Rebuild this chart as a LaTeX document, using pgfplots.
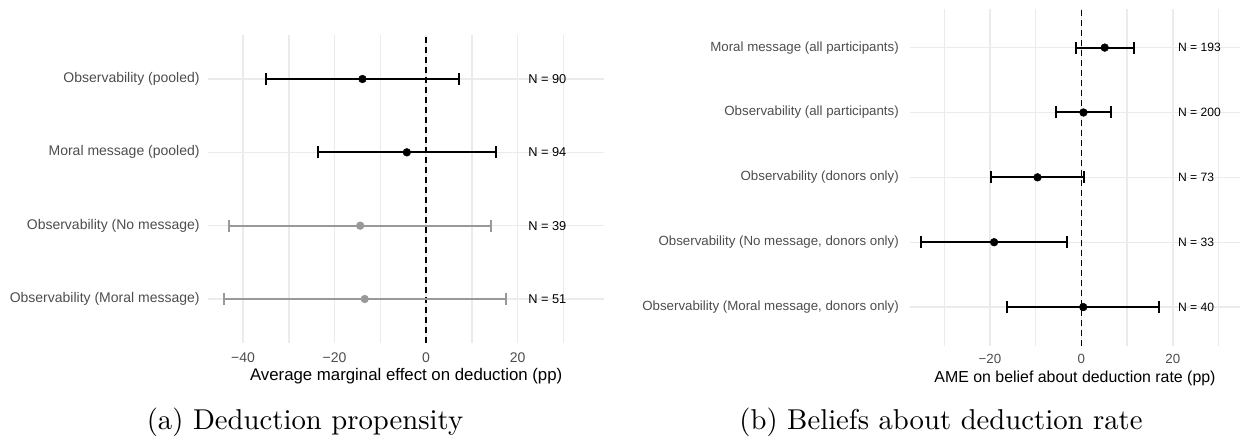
\documentclass[border=0pt]{standalone}
\usepackage{fontspec}
\usepackage{pgfplots}
\pgfplotsset{compat=1.18}
\newfontfamily\arial{Liberation Sans}
\newfontfamily\capfont{lmroman10-regular.otf}
\definecolor{gridc}{HTML}{EBEBEB}
\definecolor{labc}{HTML}{4D4D4D}
\definecolor{greybar}{HTML}{999999}

\tikzset{nlab/.style={anchor=west, inner sep=0pt}}

\pgfplotsset{
  forest/.style={
    scale only axis,
    anchor=south west,
    axis line style={draw=none},
    major tick length=0pt, minor tick length=0pt,
    xmajorgrids, xminorgrids, ymajorgrids,
    grid style={color=gridc, line width=1.4pt},
    minor grid style={color=gridc, line width=1.4pt},
    xtick={-40,-20,0,20},
    xticklabels={−40,−20,0,20},
    minor xtick={-30,-10,10,30},
    ticklabel style={text=labc},
    xticklabel style={anchor=base, inner sep=0pt},
    yticklabel style={anchor=east, inner sep=0pt},
    xlabel style={text=black, anchor=base, at={(axis description cs:0.5,0)}},
    clip=false,
  },
  est/.style={black, only marks, mark=*, mark size=3.9pt,
    error bars/.cd, x dir=both, x explicit, error mark=|,
    error bar style={line width=2pt, black},
    error mark options={line width=2pt, mark size=6pt, black}},
  estg/.style={greybar, only marks, mark=*, mark size=3.9pt, mark options={fill=greybar, draw=greybar},
    error bars/.cd, x dir=both, x explicit, error mark=|,
    error bar style={line width=2pt, greybar},
    error mark options={line width=2pt, mark size=6pt, greybar}},
  zeroline/.style={black, line width=1.8pt, dash pattern=on 6pt off 4pt},
}

\begin{document}
\begin{tikzpicture}

% (a) deduction propensity
\begin{axis}[forest,
  at={(208.3pt,104pt)}, width=395.7pt, height=308pt,
  xmin=-47.6, xmax=38.9, ymin=0.4, ymax=4.6,
  ytick={1,2,3,4},
  yticklabels={Observability (Moral message), Observability (No message), Moral message (pooled), Observability (pooled)},
  yticklabel style={xshift=-8.5pt, font=\arial\fontsize{14}{16}\selectfont},
  xticklabel style={yshift=-19.8pt, font=\arial\fontsize{14}{16}\selectfont},
  xlabel style={yshift=-37.7pt, font=\arial\fontsize{16.8}{19}\selectfont},
  xlabel={Average marginal effect on deduction (pp)},
]
\addplot[zeroline] coordinates {(0,0.4) (0,4.6)};
\addplot[est] coordinates {(-13.9,4) +- (21.1,0) (-4.2,3) +- (19.5,0)};
\addplot[estg] coordinates {(-14.4,2) +- (28.6,0) (-13.4,1) +- (30.8,0)};
\tikzset{nlab/.append style={font=\arial\fontsize{12.8}{14}\selectfont}}
\node[nlab] at (axis cs:22.3,4) {N = 90};
\node[nlab] at (axis cs:22.3,3) {N = 94};
\node[nlab] at (axis cs:22.3,2) {N = 39};
\node[nlab] at (axis cs:22.3,1) {N = 51};
\end{axis}

% (b) beliefs about deduction rate
\begin{axis}[forest,
  at={(910pt,101pt)}, width=330pt, height=337.3pt,
  xmin=-37.5, xmax=34.7, ymin=0.4, ymax=5.6,
  ytick={1,2,3,4,5},
  yticklabels={Observability (Moral message{,} donors only), Observability (No message{,} donors only), Observability (donors only), Observability (all participants), Moral message (all participants)},
  yticklabel style={xshift=-11pt, font=\arial\fontsize{13.3}{15}\selectfont},
  xticklabel style={yshift=-17.8pt, font=\arial\fontsize{13.3}{15}\selectfont},
  xlabel style={yshift=-36.3pt, font=\arial\fontsize{15.9}{18}\selectfont},
  xlabel={AME on belief about deduction rate (pp)},
]
\addplot[zeroline] coordinates {(0,0.4) (0,5.6)};
\addplot[est] coordinates {(5.1,5) +- (6.3,0) (0.45,4) +- (6.1,0) (-9.6,3) +- (10.2,0) (-19.1,2) +- (16.0,0) (0.4,1) +- (16.6,0)};
\tikzset{nlab/.append style={font=\arial\fontsize{12.1}{14}\selectfont}}
\node[nlab] at (axis cs:21.1,5) {N = 193};
\node[nlab] at (axis cs:21.1,4) {N = 200};
\node[nlab] at (axis cs:21.1,3) {N = 73};
\node[nlab] at (axis cs:21.1,2) {N = 33};
\node[nlab] at (axis cs:21.1,1) {N = 40};
\end{axis}

\node[anchor=base] at (305pt,18pt) {\capfont\fontsize{28.7}{34}\selectfont (a) Deduction propensity};
\node[anchor=base] at (941pt,18pt) {\capfont\fontsize{28.7}{34}\selectfont (b) Beliefs about deduction rate};

\pgfresetboundingbox
\useasboundingbox (0,0) rectangle (1244pt,447pt);
\end{tikzpicture}
\end{document}
